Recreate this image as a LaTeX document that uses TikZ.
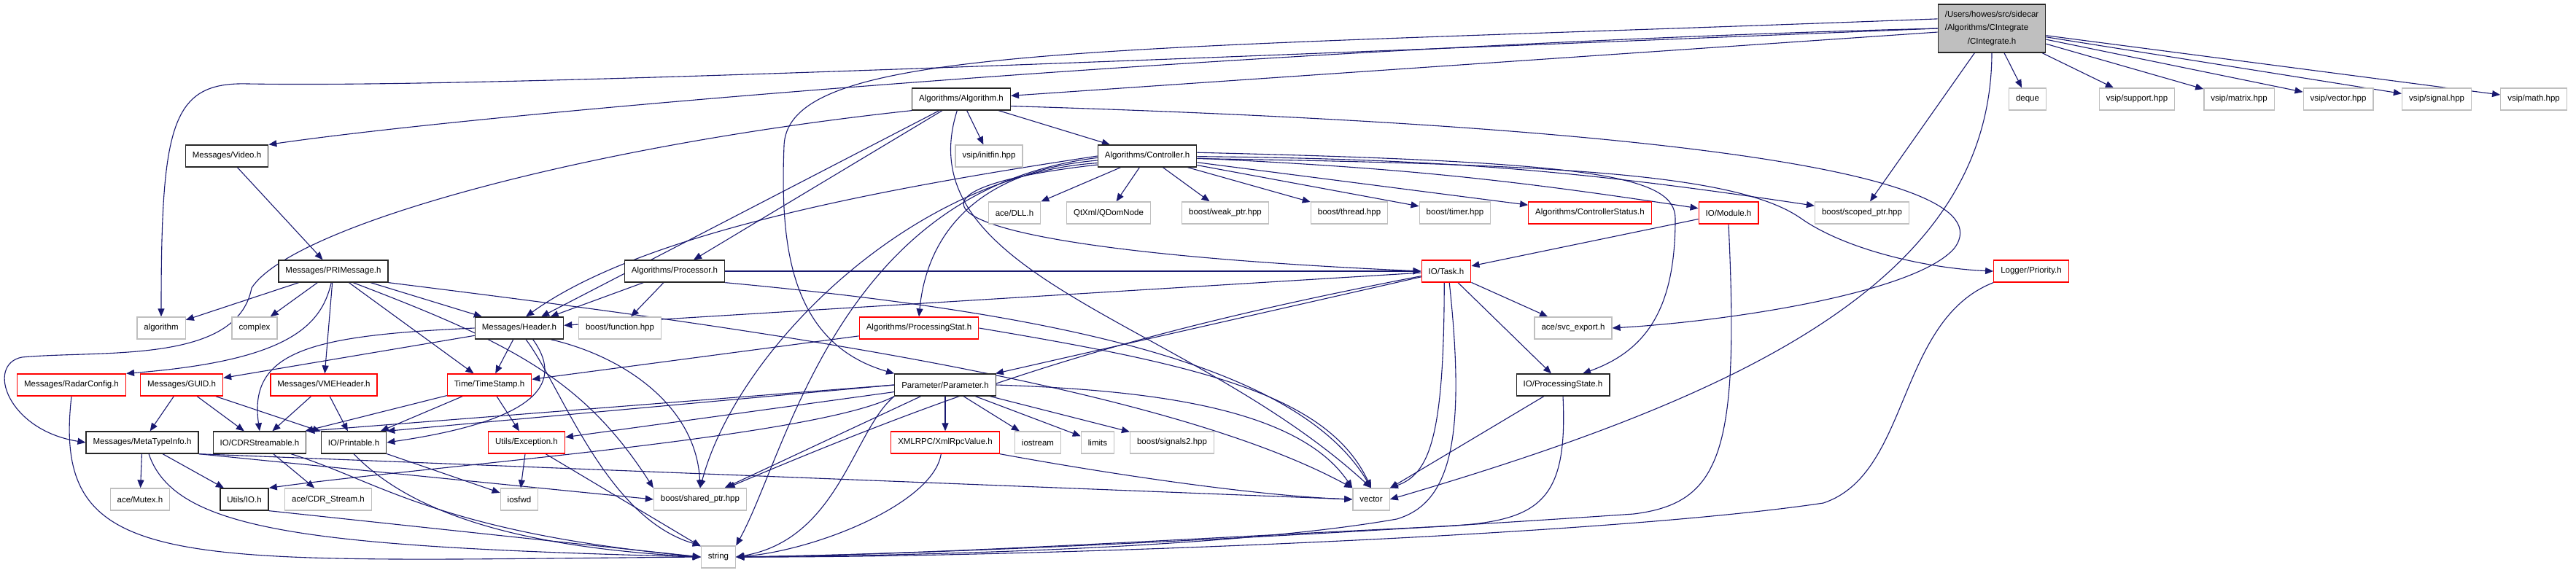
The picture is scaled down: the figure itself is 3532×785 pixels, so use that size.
\documentclass[tikz,border=0pt]{standalone}
\usepackage{fontspec}
\setmainfont{Liberation Sans}
\usetikzlibrary{arrows.meta,backgrounds}
\definecolor{edgeblue}{HTML}{191970}
\definecolor{boxgray}{HTML}{BFBFBF}
\definecolor{boxred}{HTML}{FF0000}
\tikzset{
	incbox/.style={draw, fill=white, line width=1.3pt, minimum height=30pt, inner xsep=9.5pt, inner ysep=0pt, font=\fontsize{11.5}{18.3}\selectfont},
	known/.style={incbox, draw=black!85},
	sysfile/.style={incbox, draw=boxgray},
	cutoff/.style={incbox, draw=boxred},
	focusfile/.style={incbox, draw=black!85, fill=boxgray, minimum height=66pt, align=left},
	dep/.style={draw=edgeblue, line width=1.1pt, -{Triangle[length=11pt,width=9pt]}}
}
\begin{document}
\begin{tikzpicture}[x=1pt,y=1pt]
		\useasboundingbox (0,0) rectangle (3532,-785);
		\node[focusfile] (main) at (2731,-39) {/Users/howes/src/sidecar\\/Algorithms/CIntegrate\\\hspace*{31pt}/CIntegrate.h};
		\node[known] (alg) at (1318,-136) {Algorithms/Algorithm.h};
		\node[sysfile] (deque) at (2780,-136) {deque};
		\node[sysfile] (vsupport) at (2930,-136) {vsip/support.hpp};
		\node[sysfile] (vmatrix) at (3070,-136) {vsip/matrix.hpp};
		\node[sysfile] (vvector) at (3206,-136) {vsip/vector.hpp};
		\node[sysfile] (vsignal) at (3341,-136) {vsip/signal.hpp};
		\node[sysfile] (vmath) at (3474,-136) {vsip/math.hpp};
		\node[known] (video) at (311,-214) {Messages/Video.h};
		\node[sysfile] (initfin) at (1356,-214) {vsip/initfin.hpp};
		\node[known] (ctrl) at (1573,-214) {Algorithms/Controller.h};
		\node[sysfile] (dll) at (1391,-292) {ace/DLL.h};
		\node[sysfile] (qdom) at (1520,-292) {QtXml/QDomNode};
		\node[sysfile] (weakptr) at (1680,-292) {boost/weak\_ptr.hpp};
		\node[sysfile] (thread) at (1850,-292) {boost/thread.hpp};
		\node[sysfile] (timer) at (1995,-292) {boost/timer.hpp};
		\node[cutoff] (ctrlstat) at (2180,-292) {Algorithms/ControllerStatus.h};
		\node[cutoff] (module) at (2370,-292) {IO/Module.h};
		\node[sysfile] (scopedptr) at (2553,-292) {boost/scoped\_ptr.hpp};
		\node[known] (primsg) at (457,-372) {Messages/PRIMessage.h};
		\node[known] (proc) at (925,-372) {Algorithms/Processor.h};
		\node[cutoff] (task) at (1983,-372) {IO/Task.h};
		\node[cutoff] (priority) at (2785,-372) {Logger/Priority.h};
		\node[sysfile] (algorithm) at (221,-450) {algorithm};
		\node[sysfile] (complex) at (349,-450) {complex};
		\node[known] (header) at (712,-450) {Messages/Header.h};
		\node[sysfile] (function) at (850,-450) {boost/function.hpp};
		\node[cutoff] (pstat) at (1260,-450) {Algorithms/ProcessingStat.h};
		\node[sysfile] (svcexp) at (2157,-450) {ace/svc\_export.h};
		\node[cutoff] (radar) at (98,-528) {Messages/RadarConfig.h};
		\node[cutoff] (guid) at (249,-528) {Messages/GUID.h};
		\node[cutoff] (vme) at (444,-528) {Messages/VMEHeader.h};
		\node[cutoff] (tstamp) at (671,-528) {Time/TimeStamp.h};
		\node[known] (param) at (1296,-528) {Parameter/Parameter.h};
		\node[known] (pstate) at (2143,-528) {IO/ProcessingState.h};
		\node[known] (metatype) at (195,-607) {Messages/MetaTypeInfo.h};
		\node[known] (cdr) at (356,-607) {IO/CDRStreamable.h};
		\node[known] (printable) at (485,-607) {IO/Printable.h};
		\node[cutoff] (except) at (722,-607) {Utils/Exception.h};
		\node[cutoff] (xmlrpc) at (1296,-607) {XMLRPC/XmlRpcValue.h};
		\node[sysfile] (iostream) at (1423,-607) {iostream};
		\node[sysfile] (limits) at (1505,-607) {limits};
		\node[sysfile] (signals) at (1607,-607) {boost/signals2.hpp};
		\node[sysfile] (mutex) at (192,-685) {ace/Mutex.h};
		\node[known] (utilsio) at (335,-685) {Utils/IO.h};
		\node[sysfile] (cdrstream) at (450,-685) {ace/CDR\_Stream.h};
		\node[sysfile] (iosfwd) at (712,-685) {iosfwd};
		\node[sysfile] (sharedptr) at (960,-685) {boost/shared\_ptr.hpp};
		\node[sysfile] (vector) at (1880,-685) {vector};
		\node[sysfile] (string) at (985,-764) {string};
		\begin{scope}[on background layer]
		\draw[dep] (main) to (alg);
		\draw[dep] (main.west) .. controls (1800,-60) and (700,-150) .. (video.north east);
		\draw[dep] (main.west) .. controls (1400,-90) and (650,-120) .. (340,-115) .. controls (235,-112) and (221,-170) .. (algorithm.north);
		\draw[dep] (main.170) .. controls (1500,-70) and (1080,-60) .. (1075,-200) .. controls (1070,-330) and (1080,-470) .. (param.north west);
		\draw[dep] (main) to (deque);
		\draw[dep] (main) to (vsupport);
		\draw[dep] (main) to (vmatrix);
		\draw[dep] (main) to (vvector);
		\draw[dep] (main) to (vsignal);
		\draw[dep] (main) to (vmath);
		\draw[dep] (main) to (scopedptr);
		\draw[dep] (main.south) .. controls (2730,-380) and (2400,-540) .. (vector.east);
		\draw[dep] (alg.south west) .. controls (800,-200) and (400,-310) .. (345,-395) .. controls (325,-500) and (140,-480) .. (30,-490) .. controls (-20,-500) and (10,-590) .. (metatype.west);
		\draw[dep] (alg) to (header);
		\draw[dep] (alg) to (proc);
		\draw[dep] (alg) to (initfin);
		\draw[dep] (alg) to (ctrl);
		\draw[dep] (alg.250) .. controls (1240,-380) and (1630,-440) .. (vector.north);
		\draw[dep] (alg.-8) .. controls (2200,-170) and (2760,-230) .. (2680,-340) .. controls (2630,-400) and (2380,-440) .. (svcexp.east);
		\draw[dep] (video) to (primsg);
		\draw[dep] (ctrl.west) .. controls (1200,-260) and (880,-320) .. (header.60);
		\draw[dep] (ctrl.185) .. controls (1330,-235) and (1270,-330) .. (pstat.north);
		\draw[dep] (ctrl.188) .. controls (1250,-240) and (1010,-480) .. (sharedptr.north);
		\draw[dep] (ctrl.182) .. controls (1150,-260) and (1080,-620) .. (string.north east);
		\draw[dep] (ctrl.190) .. controls (1200,-260) and (1230,-340) .. (task.west);
		\draw[dep] (ctrl) to (dll);
		\draw[dep] (ctrl) to (qdom);
		\draw[dep] (ctrl) to (weakptr);
		\draw[dep] (ctrl) to (thread);
		\draw[dep] (ctrl) to (timer);
		\draw[dep] (ctrl) to (ctrlstat);
		\draw[dep] (ctrl) to[bend left=3] (module);
		\draw[dep] (ctrl) to[bend left=4] (scopedptr);
		\draw[dep] (ctrl.-3) .. controls (2150,-225) and (2385,-240) .. (2470,-300) .. controls (2530,-342) and (2640,-368) .. (priority.west);
		\draw[dep] (ctrl.4) .. controls (2180,-222) and (2297,-240) .. (2297,-300) .. controls (2297,-420) and (2260,-480) .. (pstate.30);
		\draw[dep] (proc) to (header);
		\draw[dep] (proc) to (function);
		\draw[dep] (proc) to (task);
		\draw[dep] (proc.south east) .. controls (1450,-430) and (1780,-500) .. (vector.north);
		\draw[dep] (primsg) to (algorithm);
		\draw[dep] (primsg) to (complex);
		\draw[dep] (primsg.-100) .. controls (440,-450) and (390,-495) .. (radar.north east);
		\draw[dep] (primsg) to (vme);
		\draw[dep] (primsg) to (header);
		\draw[dep] (primsg) to (tstamp);
		\draw[dep] (primsg.-30) .. controls (700,-470) and (800,-520) .. (sharedptr.north west);
		\draw[dep] (primsg.south east) .. controls (950,-440) and (1580,-520) .. (vector.north west);
		\draw[dep] (header) to (guid);
		\draw[dep] (header.west) .. controls (430,-460) and (340,-480) .. (cdr.north);
		\draw[dep] (header) to (tstamp);
		\draw[dep] (header.-40) .. controls (770,-520) and (750,-575) .. (printable.east);
		\draw[dep] (header.-60) .. controls (770,-530) and (830,-710) .. (string.north west);
		\draw[dep] (header.-20) .. controls (860,-490) and (955,-560) .. (sharedptr.north);
		\draw[dep] (pstat) to (tstamp);
		\draw[dep] (pstat.east) .. controls (1640,-500) and (1820,-540) .. (vector.north);
		\draw[dep] (task) to (header);
		\draw[dep] (task) to (param);
		\draw[dep] (task) to[bend right=6] (sharedptr);
		\draw[dep] (task) to (svcexp);
		\draw[dep] (task) to (pstate);
		\draw[dep] (task.-100) .. controls (1980,-600) and (1960,-650) .. (vector.north east);
		\draw[dep] (task.-75) .. controls (2010,-600) and (1990,-690) .. (1915,-712) .. controls (1700,-750) and (1300,-762) .. (string.east);
		\draw[dep] (module) to (task);
		\draw[dep] (module.south) .. controls (2385,-620) and (2360,-690) .. (2240,-705) .. controls (1800,-735) and (1300,-760) .. (string.east);
		\draw[dep] (priority.south west) .. controls (2600,-440) and (2620,-650) .. (2500,-690) .. controls (2200,-735) and (1400,-765) .. (string.east);
		\draw[dep] (pstate) to (vector);
		\draw[dep] (pstate.south) .. controls (2150,-690) and (2110,-715) .. (1980,-722) .. controls (1600,-740) and (1300,-760) .. (string.east);
		\draw[dep] (param.west) to (printable.north east);
		\draw[dep] (param.west) to (cdr.north east);
		\draw[dep] (param.south west) .. controls (1120,-600) and (580,-640) .. (utilsio.north east);
		\draw[dep] (param) to (except);
		\draw[dep] (param) to (sharedptr);
		\draw[dep] (param.south west) .. controls (1170,-590) and (1150,-740) .. (string.east);
		\draw[dep] (param) to (xmlrpc);
		\draw[dep] (param) to (iostream);
		\draw[dep] (param) to (limits);
		\draw[dep] (param) to (signals);
		\draw[dep] (param.east) .. controls (1580,-535) and (1780,-560) .. (vector.north west);
		\draw[dep] (xmlrpc.250) .. controls (1280,-690) and (1120,-755) .. (string.east);
		\draw[dep] (xmlrpc.south east) .. controls (1520,-650) and (1720,-680) .. (vector.west);
		\draw[dep] (tstamp) to (cdr);
		\draw[dep] (tstamp) to (printable);
		\draw[dep] (tstamp) to (except);
		\draw[dep] (except) to (iosfwd);
		\draw[dep] (except) to (string);
		\draw[dep] (guid) to (metatype);
		\draw[dep] (guid) to (cdr);
		\draw[dep] (guid) to (printable);
		\draw[dep] (vme) to (cdr);
		\draw[dep] (vme) to (printable);
		\draw[dep] (radar.south) .. controls (70,-790) and (240,-770) .. (string.west);
		\draw[dep] (metatype) to (mutex);
		\draw[dep] (metatype) to (utilsio);
		\draw[dep] (metatype.-60) .. controls (240,-730) and (430,-750) .. (string.west);
		\draw[dep] (metatype.south east) to (sharedptr.west);
		\draw[dep] (metatype.south east) to (vector.west);
		\draw[dep] (cdr) to (cdrstream);
		\draw[dep] (cdr.-20) .. controls (520,-660) and (600,-730) .. (string.west);
		\draw[dep] (printable) to (iosfwd);
		\draw[dep] (printable.south) .. controls (560,-700) and (700,-750) .. (string.west);
		\draw[dep] (utilsio.south east) to (string.west);
		\end{scope}
\end{tikzpicture}
\end{document}
